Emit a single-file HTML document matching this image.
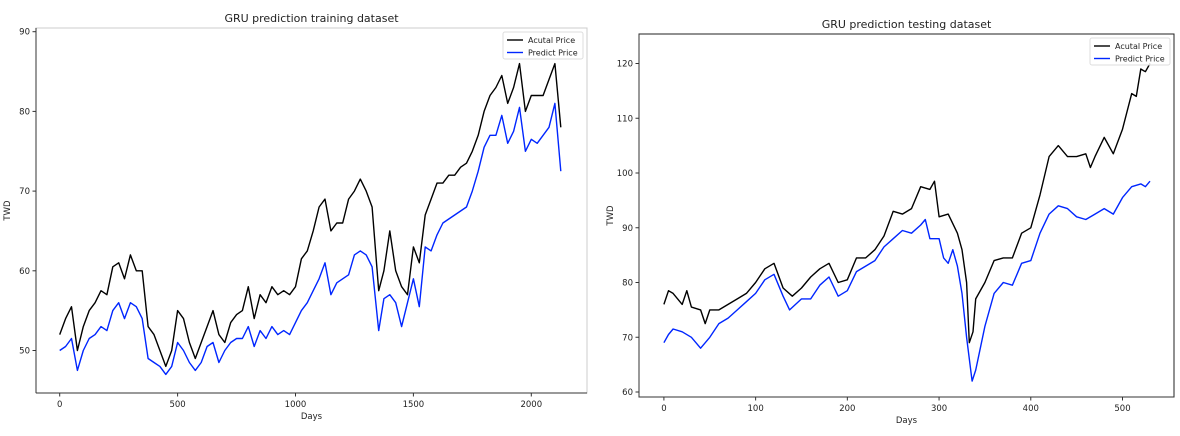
<!DOCTYPE html>
<html><head><meta charset="utf-8"><style>
body{margin:0;background:#fff;width:1180px;height:436px;overflow:hidden;font-family:"Liberation Sans","DejaVu Sans",sans-serif}
svg{display:block}
text{font-family:"DejaVu Sans","Liberation Sans",sans-serif;fill:#222}
</style></head><body>
<svg id="chart" width="1180" height="436" viewBox="0 0 1180 436"></svg>
<script>
// Training chart data
const trainDaysA=[0,25,50,75,100,125,150,175,200,225,250,275,300,325,350,375,400,425,450,475,500,525,550,575,600,625,650,675,700,725,750,775,800,825,850,875,900,925,950,975,1000,1025,1050,1075,1100,1125,1150,1175,1200,1225,1250,1275,1300,1325,1353,1375,1400,1425,1450,1475,1500,1525,1550,1575,1600,1625,1650,1675,1700,1725,1750,1775,1800,1825,1850,1875,1900,1925,1950,1975,2000,2025,2050,2075,2100,2125];
const trainActual=[52,54,55.5,50,53,55,56,57.5,57,60.5,61,59,62,60,60,53,52,50,48,50,55,54,51,49,51,53,55,52,51,53.5,54.5,55,58,54,57,56,58,57,57.5,57,58,61.5,62.5,65,68,69,65,66,66,69,70,71.5,70,68,57.5,60,65,60,58,57,63,61,67,69,71,71,72,72,73,73.5,75,77,80,82,83,84.5,81,83,86,80,82,82,82,84,86,78];
const trainPredict=[50,50.5,51.5,47.5,50,51.5,52,53,52.5,55,56,54,56,55.5,54,49,48.5,48,47,48,51,50,48.5,47.5,48.5,50.5,51,48.5,50,51,51.5,51.5,53,50.5,52.5,51.5,53,52,52.5,52,53.5,55,56,57.5,59,61,57,58.5,59,59.5,62,62.5,62,60.5,52.5,56.5,57,56,53,56,59,55.5,63,62.5,64.5,66,66.5,67,67.5,68,70,72.5,75.5,77,77,79.5,76,77.5,80.5,75,76.5,76,77,78,81,72.5];
const trainXTicks=[0,500,1000,1500,2000];
const trainYTicks=[50,60,70,80,90];
// Testing chart data
const testDays=[0,5,10,20,25,30,40,45,50,60,70,80,90,100,110,120,130,140,150,160,170,180,190,200,210,220,230,240,250,260,270,280,290,295,300,310,320,325,330,333,337,340,350,360,370,380,390,400,410,420,430,440,450,460,465,470,480,490,500,510,515,520,525,530];
const testActual=[76,78.5,78,76,78.5,75.5,75,72.5,75,75,76,77,78,80,82.5,83.5,79,77.5,79,81,82.5,83.5,80,80.5,84.5,84.5,86,88.5,93,92.5,93.5,97.5,97,98.5,92,92.5,89,86,80,69,71,77,80,84,84.5,84.5,89,90,96,103,105,103,103,103.5,101,103,106.5,103.5,108,114.5,114,119,118.5,120];
const testDaysP=[0,5,10,20,30,40,50,60,70,80,90,100,110,120,130,137,150,160,170,180,190,200,210,220,230,240,250,260,270,280,285,290,300,305,310,315,320,325,330,336,340,350,360,370,380,390,400,410,420,430,440,450,460,470,480,490,500,510,520,525,530];
const testPredict=[69,70.5,71.5,71,70,68,70,72.5,73.5,75,76.5,78,80.5,81.5,77.5,75,77,77,79.5,81,77.5,78.5,82,83,84,86.5,88,89.5,89,90.5,91.5,88,88,84.5,83.5,86,83,78,70,62,64,72,78,80,79.5,83.5,84,89,92.5,94,93.5,92,91.5,92.5,93.5,92.5,95.5,97.5,98,97.5,98.5];
const testXTicks=[0,100,200,300,400,500];
const testYTicks=[60,70,80,90,100,110,120];

const svg=document.getElementById('chart');
const NS='http://www.w3.org/2000/svg';
function mk(tag,attrs,parent){const e=document.createElementNS(NS,tag);for(const k in attrs)e.setAttribute(k,attrs[k]);(parent||svg).appendChild(e);return e;}

function drawChart(cfg){
  const g=mk('g',{});
  
  
  const xs=v=>cfg.x0px+(v-cfg.x0v)*(cfg.x1px-cfg.x0px)/(cfg.x1v-cfg.x0v);
  const ys=v=>cfg.y0px+(v-cfg.y0v)*(cfg.y1px-cfg.y0px)/(cfg.y1v-cfg.y0v);
  const L=cfg.left,R=cfg.right,T=cfg.top,B=cfg.bottom;
  const title=mk('text',{x:(L+R)/2,y:T-6,'text-anchor':'middle','font-size':'11'},g);title.textContent=cfg.title;
  
  
  cfg.series.forEach(s=>{
    const d=s.xs.map((v,i)=>(i?'L':'M')+xs(v).toFixed(1)+','+ys(s.ys[i]).toFixed(1)).join('');
    const p=mk('path',{d:d,fill:'none',stroke:s.color,'stroke-width':'1.4','stroke-linejoin':'round'},g);
    
    
  });
  const frame=mk('rect',{x:L,y:T,width:R-L,height:B-T,fill:'none',stroke:cfg.frame,'stroke-width':'1'},g);
  
  
  mk('line',{x1:L,y1:B,x2:R,y2:B,stroke:'#333','stroke-width':'1'},g);
  mk('line',{x1:L,y1:T,x2:L,y2:B,stroke:'#333','stroke-width':'1'},g);
  cfg.xTicks.forEach(v=>{const x=xs(v);mk('line',{x1:x,y1:B,x2:x,y2:B+3.5,stroke:'#333'},g);
    const t=mk('text',{x:x,y:B+14,'text-anchor':'middle','font-size':'8.5'},g);t.textContent=v;
    
    });
  cfg.yTicks.forEach(v=>{const y=ys(v);mk('line',{x1:L-3.5,y1:y,x2:L,y2:y,stroke:'#333'},g);
    const t=mk('text',{x:L-6,y:y+3,'text-anchor':'end','font-size':'8.5'},g);t.textContent=v;
    
    });
  const xl=mk('text',{x:(L+R)/2,y:B+26,'text-anchor':'middle','font-size':'8.5'},g);xl.textContent='Days';
  
  
  const yl=mk('text',{x:0,y:0,'text-anchor':'middle','font-size':'8.5',transform:`translate(${L-26},${(T+B)/2}) rotate(-90)`},g);yl.textContent='TWD';
  
  
  const lg=mk('g',{},g);
  
  
  const lx=R-84,ly=T+4;
  mk('rect',{x:lx,y:ly,width:80,height:27,fill:'#fff','fill-opacity':'0.8',stroke:'#ddd',rx:2},lg);
  ['Acutal Price','Predict Price'].forEach((n,i)=>{
    mk('line',{x1:lx+4,y1:ly+8+i*12.5,x2:lx+20,y2:ly+8+i*12.5,stroke:i?'#0026ff':'#000','stroke-width':'1.4'},lg);
    const t=mk('text',{x:lx+25,y:ly+11+i*12.5,'font-size':'8'},lg);t.textContent=n;
    
    
  });
}

drawChart({name:'training-chart',title:'GRU prediction training dataset',left:36,right:587,top:28,bottom:393,frame:'#ccc',
  x0v:0,x1v:2000,x0px:59.7,x1px:531.3,y0v:50,y1v:90,y0px:350.5,y1px:31.7,
  xTicks:trainXTicks,yTicks:trainYTicks,
  series:[{name:'train-actual-line',xs:trainDaysA,ys:trainActual,color:'#000'},{name:'train-predict-line',xs:trainDaysA,ys:trainPredict,color:'#0026ff'}]});
drawChart({name:'testing-chart',title:'GRU prediction testing dataset',left:639,right:1174,top:34,bottom:397,frame:'#222',
  x0v:0,x1v:500,x0px:663.9,x1px:1122.5,y0v:60,y1v:120,y0px:392,y1px:63.5,
  xTicks:testXTicks,yTicks:testYTicks,
  series:[{name:'test-actual-line',xs:testDays,ys:testActual,color:'#000'},{name:'test-predict-line',xs:testDaysP,ys:testPredict,color:'#0026ff'}]});
</script>
</body></html>
